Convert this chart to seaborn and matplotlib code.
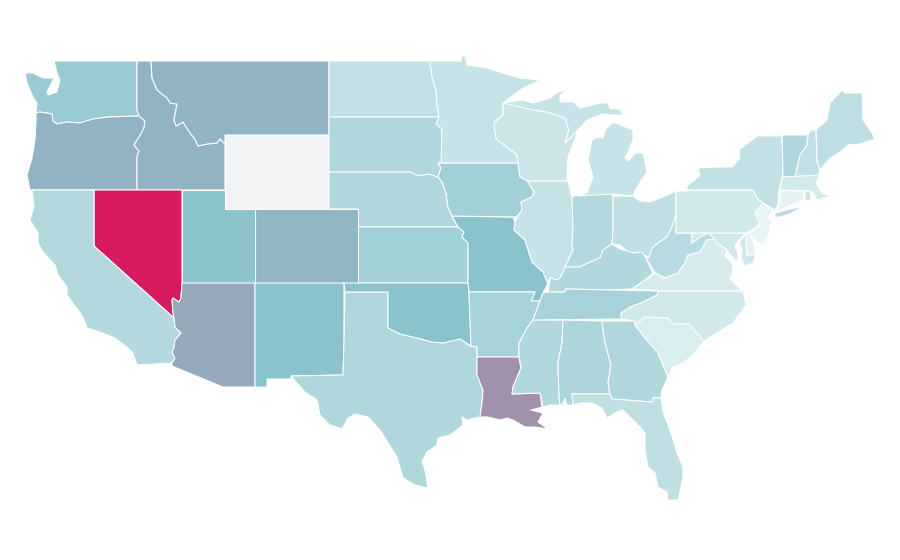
import numpy as np
import seaborn as sns
import matplotlib.pyplot as plt

sns.set_theme(style="white")

# rate per state, WY has no data
states = ["WA","OR","ID","MT","WY","ND","SD","NE","KS","CO","UT","NV","CA","AZ","NM","TX","OK","MO","IA","MN","WI","IL","IN","OH","KY","WV","VA","MD","MD","DE","PA","NY","VT","NH","ME","MA","CT","RI","NJ","MI","MI","AR","LA","MS","AL","GA","FL","SC","NC","TN","NY"]
values = [43,55,55,55,np.nan,23,32,32,38,54,48.5,100,30,57.5,50,32,50,50,38,20.5,19,20.5,30,24,31,28,12,16,16,6,15,22,32,22,25,14,6,19,4,20.5,20.5,36,65,31,33,32,24,11,15,36.5,28]

# outlines, in picture pixels
outlines = [
    [(54,61),(137,61),(137,110),(139,116),(108,117),(93,119),(80,123),(67,122),(57,124),(53,121),(52,114),(40,112),(36,113),(37,103),(33,97),(27,83),(25,73),(33,73),(43,78),(50,78),(54,78),(50,86),(47,92),(48,95),(57,92),(60,80),(57,73)],
    [(36,113),(40,112),(52,114),(53,121),(57,124),(67,122),(80,123),(93,119),(108,117),(139,116),(145,121),(144,128),(139,137),(134,145),(139,151),(137,157),(137,190),(30,190),(27,175),(32,158),(35,140),(36,120)],
    [(137,61),(151,61),(152,78),(157,90),(167,98),(170,103),(177,104),(174,120),(176,126),(183,122),(190,133),(195,139),(198,146),(207,144),(217,143),(220,139),(225,144),(225,190),(137,190),(137,157),(139,151),(134,145),(139,137),(144,128),(145,121),(139,116),(137,110)],
    [(151,61),(329,61),(329,135),(225,135),(225,144),(220,139),(217,143),(207,144),(198,146),(195,139),(190,133),(183,122),(176,126),(174,120),(177,104),(170,103),(167,98),(157,90),(152,78)],
    [(225,135),(329,135),(329,209),(225,209)],
    [(329,61),(430,61),(432,77),(436,90),(437,105),(439,117),(329,117)],
    [(329,117),(439,117),(436,124),(442,129),(442,163),(438,163),(441,168),(438,177),(428,174),(418,176),(410,172),(343,172),(329,172)],
    [(329,172),(343,172),(410,172),(418,176),(428,174),(438,177),(442,182),(446,193),(448,207),(452,217),(458,227),(358,227),(358,209),(329,209)],
    [(358,227),(458,227),(464,232),(462,237),(468,243),(468,283),(358,283)],
    [(255,209),(358,209),(358,283),(255,283)],
    [(182,190),(225,190),(225,209),(255,209),(255,283),(182,283)],
    [(94,190),(182,190),(182,283),(181,298),(179,302),(173,298),(172,300),(173,313),(174,318),(94,246)],
    [(32,190),(94,190),(94,246),(174,318),(175,327),(181,333),(175,340),(174,348),(172,352),(175,358),(172,363),(137,365),(133,353),(127,347),(115,338),(100,332),(87,328),(83,317),(67,295),(67,287),(58,275),(55,265),(43,252),(38,243),(38,233),(30,220),(34,207)],
    [(182,283),(255,283),(255,387),(223,387),(172,366),(172,363),(175,358),(172,352),(174,348),(175,340),(181,333),(175,327),(174,318),(173,313),(172,300),(173,298),(179,302),(181,298)],
    [(255,283),(344,283),(344,343),(343,375),(291,376),(291,379),(267,379),(267,387),(255,387)],
    [(345,292),(388,292),(388,328),(400,334),(417,338),(432,342),(443,343),(460,339),(470,346),(477,347),(477,375),(483,390),(482,403),(480,417),(467,420),(462,417),(463,425),(450,435),(438,438),(437,445),(427,452),(422,462),(425,470),(428,488),(415,485),(403,478),(397,457),(380,430),(368,417),(355,414),(348,418),(342,429),(330,425),(320,415),(317,400),(305,392),(291,376),(343,375),(344,343)],
    [(344,283),(468,283),(469,292),(471,346),(460,339),(443,343),(432,342),(417,338),(400,334),(388,328),(388,292),(345,292)],
    [(452,216),(513,217),(515,223),(514,230),(525,240),(532,262),(543,272),(548,283),(543,293),(540,301),(531,301),(535,292),(469,292),(468,283),(468,243),(462,237),(464,232),(458,227)],
    [(441,163),(518,163),(520,177),(527,180),(534,192),(532,197),(521,202),(522,210),(517,217),(452,216),(448,207),(446,193),(442,182),(438,177),(441,168),(438,163)],
    [(430,61),(461,61),(462,55),(465,56),(467,65),(487,68),(502,73),(520,78),(540,80),(523,88),(503,103),(503,115),(494,123),(496,139),(507,147),(517,155),(518,163),(441,163),(442,129),(436,124),(439,117),(437,105),(436,90),(432,77)],
    [(503,103),(523,100),(533,110),(547,112),(565,118),(569,130),(565,143),(578,130),(572,147),(568,157),(567,181),(527,181),(520,177),(518,163),(517,155),(507,147),(496,139),(494,123),(503,115)],
    [(527,181),(568,181),(572,197),(573,230),(572,243),(573,250),(565,267),(562,275),(558,280),(550,278),(547,282),(543,272),(532,262),(525,240),(514,230),(515,223),(517,217),(522,210),(521,202),(532,197),(534,192)],
    [(572,197),(580,194),(613,194),(613,230),(612,244),(603,250),(600,258),(590,262),(580,267),(565,267),(573,250),(572,243),(573,230)],
    [(613,196),(633,196),(640,201),(650,202),(663,197),(676,191),(676,215),(672,227),(667,237),(658,243),(652,248),(649,257),(643,255),(638,253),(628,252),(620,245),(612,244),(613,230)],
    [(565,267),(580,267),(590,262),(600,258),(603,250),(612,244),(620,249),(633,253),(642,252),(646,258),(653,273),(645,280),(632,289),(602,290),(566,289),(565,292),(548,292),(550,282),(550,278),(558,280),(562,275)],
    [(649,257),(652,248),(658,243),(667,237),(672,227),(676,215),(676,233),(692,233),(692,243),(700,237),(708,233),(715,239),(707,240),(700,252),(688,255),(685,263),(678,273),(665,278),(655,273),(646,258)],
    [(632,289),(645,280),(655,273),(665,278),(678,273),(685,263),(688,255),(700,252),(707,240),(715,239),(717,243),(727,250),(725,257),(732,262),(733,273),(730,278),(738,287),(743,291),(667,291)],
    [(692,233),(746,233),(739,240),(735,245),(738,255),(738,262),(733,258),(727,250),(717,243),(715,239),(708,233),(700,237),(692,243)],
    [(746,233),(747,255),(756,255),(753,263),(745,266),(741,258),(742,250),(739,243)],
    [(746,233),(750,233),(754,245),(756,255),(747,255)],
    [(676,191),(687,191),(687,186),(687,190),(753,190),(757,198),(763,203),(755,213),(760,224),(754,229),(746,233),(676,233)],
    [(687,190),(687,186),(700,176),(698,168),(718,167),(732,167),(740,158),(739,150),(757,136),(782,136),(783,170),(782,180),(779,190),(778,205),(775,210),(763,203),(757,198),(753,190)],
    [(782,135),(808,135),(807,145),(800,155),(795,177),(783,177),(783,170)],
    [(808,135),(811,130),(816,130),(817,160),(820,170),(818,177),(795,177),(800,155),(807,145)],
    [(816,130),(827,120),(830,103),(842,90),(845,93),(862,93),(863,120),(872,133),(875,139),(860,144),(848,145),(840,152),(830,158),(820,170),(817,160)],
    [(782,177),(820,175),(816,183),(822,193),(830,196),(823,198),(817,200),(812,191),(780,190)],
    [(780,191),(804,191),(804,200),(790,205),(777,212),(780,200)],
    [(805,191),(810,191),(811,200),(805,201)],
    [(763,203),(773,210),(768,218),(772,222),(768,237),(762,245),(752,238),(750,233),(760,224),(755,213)],
    [(577,196),(613,194),(633,196),(637,187),(647,172),(643,153),(635,153),(628,161),(625,158),(628,152),(633,140),(633,130),(613,122),(605,130),(603,138),(597,137),(592,140),(588,160),(593,177),(587,193)],
    [(503,103),(523,100),(533,103),(550,98),(558,92),(568,90),(560,95),(560,102),(573,102),(580,108),(600,103),(608,103),(610,109),(620,109),(623,115),(613,115),(603,114),(587,120),(578,130),(565,143),(569,130),(565,118),(547,112),(533,110)],
    [(469,292),(535,292),(531,301),(540,301),(533,320),(527,328),(519,343),(519,357),(477,357),(477,347),(471,346)],
    [(477,357),(519,357),(521,368),(513,387),(512,394),(540,393),(542,407),(531,410),(543,413),(538,422),(548,429),(535,427),(525,427),(513,420),(507,418),(500,420),(488,417),(480,417),(482,403),(483,390),(477,375)],
    [(533,320),(563,320),(562,343),(558,363),(559,397),(560,405),(550,405),(543,407),(540,393),(512,394),(513,387),(521,368),(519,357),(519,343),(527,328)],
    [(563,320),(602,321),(605,343),(611,365),(608,383),(610,394),(572,394),(573,405),(567,405),(565,398),(562,405),(560,405),(559,397),(558,363),(562,343)],
    [(602,321),(635,321),(635,325),(645,338),(658,353),(663,365),(668,377),(662,390),(661,398),(653,398),(652,402),(612,399),(610,394),(608,383),(611,365),(605,343)],
    [(572,394),(610,394),(612,399),(652,402),(653,398),(661,398),(663,412),(670,430),(677,453),(683,467),(683,477),(678,500),(668,500),(667,492),(658,487),(655,473),(648,467),(645,450),(645,433),(640,427),(623,410),(617,412),(607,418),(602,408),(592,403),(580,403),(573,405)],
    [(635,325),(645,317),(668,318),(673,324),(689,324),(704,341),(695,353),(683,363),(673,367),(668,377),(663,365),(658,353),(645,338)],
    [(621,319),(621,313),(630,307),(643,302),(657,295),(658,291),(743,291),(746,305),(733,323),(713,335),(704,341),(689,324),(673,324),(668,318),(645,317),(635,325),(635,321)],
    [(548,292),(565,292),(566,289),(658,291),(657,295),(643,302),(630,307),(621,313),(621,319),(533,320),(540,301),(543,293)],
    [(775,213),(790,209),(802,207),(790,214),(780,217),(775,217)],
]

cmap = sns.blend_palette(["#f0f8f9", "#8ac4cc", "#d81b60"], as_cmap=True)
cmap.set_bad("#f2f3f5")
norm = plt.Normalize(0, 100)

fig, ax = plt.subplots(figsize=(9, 5.6), dpi=100)
fig.subplots_adjust(0, 0, 1, 1)
for name, val, shape in zip(states, values, outlines):
    xs, ys = zip(*shape)
    ax.fill(xs, ys, color=cmap(norm(np.ma.masked_invalid(val))), ec="white", lw=0.75, joinstyle="round")

ax.set_xlim(0, 900)
ax.set_ylim(560, 0)
ax.set_axis_off()
fig.savefig("out.png", dpi=100, facecolor="white")
